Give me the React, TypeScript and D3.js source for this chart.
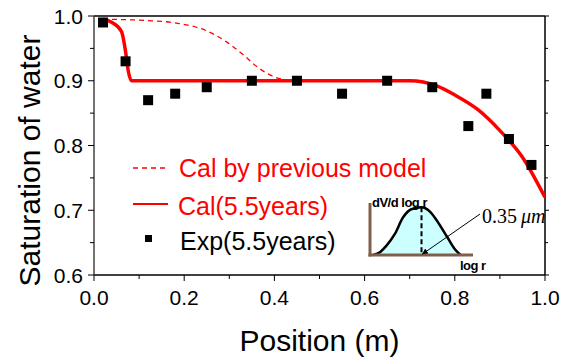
import React from "react";
import * as d3 from "d3";

// ---- data ----
const expPosition = [0.02, 0.07, 0.12, 0.18, 0.25, 0.35, 0.45, 0.55, 0.65, 0.75, 0.83, 0.87, 0.92, 0.97];
const expSaturation = [0.99, 0.93, 0.87, 0.88, 0.89, 0.9, 0.9, 0.88, 0.9, 0.89, 0.83, 0.88, 0.81, 0.77];

const calPosition = [0.02, 0.04, 0.061, 0.07, 0.076, 0.083, 0.7, 0.73, 0.76, 0.8, 0.85, 0.9, 0.95, 1.0];
const calSaturation = [0.995, 0.99, 0.976, 0.945, 0.915, 0.9, 0.9, 0.898, 0.892, 0.878, 0.856, 0.823, 0.782, 0.72];

const prevPosition = [0.02, 0.117, 0.183, 0.25, 0.294, 0.331, 0.361, 0.39, 0.42, 0.45];
const prevSaturation = [0.995, 0.993, 0.989, 0.977, 0.96, 0.94, 0.922, 0.909, 0.902, 0.9];

const xTickLabels = ["0.0", "0.2", "0.4", "0.6", "0.8", "1.0"];
const yTickLabels = ["0.6", "0.7", "0.8", "0.9", "1.0"];

const legendLabels = ["Cal by previous model", "Cal(5.5years)", "Exp(5.5years)"];

// inset schematic (normalized log r, dV/dlog r)
const insetLogR = [0.03, 0.1, 0.16, 0.24, 0.32, 0.4, 0.5, 0.58, 0.65, 0.745, 0.82, 0.88];
const insetDV = [0.0, 0.06, 0.18, 0.4, 0.72, 0.88, 0.92, 0.84, 0.66, 0.36, 0.12, 0.0];
const insetPeak = 0.5;

const W = 569;
const H = 358;
const left = 94;
const right = 545;
const top = 16;
const bottom = 275;

export default function App() {
  const x = d3.scaleLinear().domain([0, 1]).range([left, right]);
  const y = d3.scaleLinear().domain([0.6, 1.0]).range([bottom, top]);

  const calLine = d3
    .line<number>()
    .x((_, i) => x(calPosition[i]))
    .y((d) => y(d))
    .curve(d3.curveMonotoneX)(calSaturation) as string;

  const prevLine = d3
    .line<number>()
    .x((_, i) => x(prevPosition[i]))
    .y((d) => y(d))
    .curve(d3.curveMonotoneX)(prevSaturation) as string;

  const xMinor = d3.range(0, 11).map((i) => i / 10);
  const yMinor = d3.range(0, 9).map((i) => 0.6 + i * 0.05);

  // inset scales
  const ix = d3.scaleLinear().domain([0, 1]).range([370, 473]);
  const iy = d3.scaleLinear().domain([0, 1]).range([255, 203]);
  const insetArea = d3
    .area<number>()
    .x((_, i) => ix(insetLogR[i]))
    .y0(iy(0))
    .y1((d) => iy(d))
    .curve(d3.curveMonotoneX)(insetDV) as string;
  const insetCurve = d3
    .line<number>()
    .x((_, i) => ix(insetLogR[i]))
    .y((d) => iy(d))
    .curve(d3.curveMonotoneX)(insetDV) as string;
  const peakDV = insetDV[insetLogR.indexOf(insetPeak)];

  const font = "Liberation Sans, Arial, Helvetica, sans-serif";
  const ms = 10;

  return (
    <svg
      width={W}
      height={H}
      style={{ position: "absolute", left: 0, top: 0, background: "#fff" }}
      fontFamily={font}
    >
      <defs>
        <clipPath id="plotclip">
          <rect x={left} y={top} width={right - left} height={bottom - top} />
        </clipPath>
        <marker id="arrow" viewBox="0 0 10 10" refX="9" refY="5" markerWidth="6" markerHeight="6" orient="auto">
          <path d="M0,0 L10,5 L0,10 z" fill="#000" />
        </marker>
      </defs>
      <rect width={W} height={H} fill="#fff" />

      {/* frame */}
      <line x1={left} x2={right} y1={top} y2={top} stroke="#000" strokeWidth={1.5} />
      <line x1={right} x2={right} y1={top} y2={bottom} stroke="#000" strokeWidth={1.5} />
      <line x1={left} x2={right} y1={bottom} y2={bottom} stroke="#000" strokeWidth={1.5} />
      <line x1={left} x2={left} y1={top} y2={bottom} stroke="#444" strokeWidth={1.5} />

      {/* x ticks */}
      {xMinor.map((v, i) => (
        <line key={"xt" + i} x1={x(v)} x2={x(v)} y1={bottom} y2={bottom + (i % 2 === 0 ? 6 : 4)} stroke="#000" strokeWidth={1} />
      ))}
      {xTickLabels.map((t) => (
        <text key={"xl" + t} x={x(+t)} y={305} fontSize={21} textAnchor="middle" fill="#000">
          {t}
        </text>
      ))}
      {/* y ticks */}
      {yMinor.map((v, i) => (
        <g key={"yt" + i}>
          <line x1={left - (i % 2 === 0 ? 6 : 4)} x2={left} y1={y(v)} y2={y(v)} stroke="#000" strokeWidth={1} />
          <line x1={right} x2={right + (i % 2 === 0 ? 4 : 3)} y1={y(v)} y2={y(v)} stroke="#000" strokeWidth={1} />
        </g>
      ))}
      {yTickLabels.map((t) => (
        <text key={"yl" + t} x={83} y={y(+t) + 7.5} fontSize={21} textAnchor="end" fill="#000">
          {t}
        </text>
      ))}

      {/* axis titles */}
      <text x={(left + right) / 2} y={351} fontSize={30} textAnchor="middle" fill="#000">
        Position (m)
      </text>
      <text transform={`translate(40,160.5) rotate(-90)`} fontSize={30} textAnchor="middle" fill="#000">
        Saturation of water
      </text>

      {/* curves */}
      <g clipPath="url(#plotclip)">
        <path d={prevLine} fill="none" stroke="#ff0000" strokeWidth={1.3} strokeDasharray="5,4" />
        <path d={calLine} fill="none" stroke="#ff0000" strokeWidth={3.5} />
      </g>

      {/* experimental points */}
      {expSaturation.map((s, i) => (
        <rect key={"p" + i} x={x(expPosition[i]) - ms / 2} y={y(s) - ms / 2} width={ms} height={ms} fill="#000" />
      ))}

      {/* legend */}
      <line x1={133} x2={168} y1={168} y2={168} stroke="#ff0000" strokeWidth={1.3} strokeDasharray="5,4" />
      <text x={179} y={177} fontSize={25} fill="#ff0000">
        {legendLabels[0]}
      </text>
      <line x1={133} x2={168} y1={204} y2={204} stroke="#ff0000" strokeWidth={2} />
      <text x={178} y={215} fontSize={25} fill="#ff0000">
        {legendLabels[1]}
      </text>
      <rect x={145} y={235} width={7} height={7} fill="#000" />
      <text x={180} y={250} fontSize={25} fill="#000">
        {legendLabels[2]}
      </text>

      {/* inset */}
      <path d={insetArea} fill="#ccffff" />
      <path d={insetCurve} fill="none" stroke="#000" strokeWidth={2.5} />
      <line x1={ix(insetPeak)} x2={ix(insetPeak)} y1={iy(peakDV)} y2={iy(0)} stroke="#000" strokeWidth={2} strokeDasharray="5,3" />
      <line x1={ix(0)} x2={ix(0)} y1={iy(1.0)} y2={iy(0) + 1.5} stroke="#7f5f48" strokeWidth={3} />
      <line x1={ix(0) - 1.5} x2={ix(1)} y1={iy(0)} y2={iy(0)} stroke="#7f5f48" strokeWidth={3} />
      <text x={372} y={207} fontSize={13} fill="#000" fontWeight="bold" letterSpacing={-0.5}>
        dV/d log r
      </text>
      <text x={460} y={270} fontSize={13} fill="#000" fontWeight="bold" letterSpacing={-0.5}>
        log r
      </text>
      <line x1={480} y1={214} x2={ix(insetPeak) + 1} y2={iy(0) - 1} stroke="#000" strokeWidth={1} markerEnd="url(#arrow)" />
      <text x={482} y={223} fontSize={20} fill="#000" fontFamily="Liberation Serif, Times New Roman, serif">
        0.35
        <tspan dx={4} fontStyle="italic">
          μm
        </tspan>
      </text>
    </svg>
  );
}
